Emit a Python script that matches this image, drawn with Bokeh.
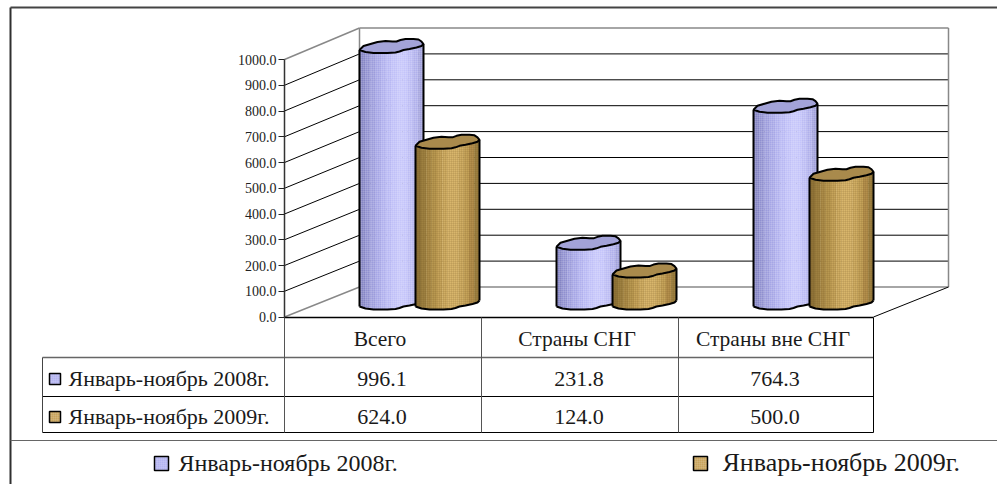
from bokeh.plotting import figure
from bokeh.models import Range1d, LinearAxis, FixedTicker, PrintfTickFormatter
from bokeh.core.properties import value
from bokeh.embed import file_html
from bokeh.resources import INLINE

categories = ["Всего", "Страны СНГ", "Страны вне СНГ"]
series_names = ["Январь-ноябрь 2008г.", "Январь-ноябрь 2009г."]
values_2008 = [996.1, 231.8, 764.3]
values_2009 = [624.0, 124.0, 500.0]
ticks = [0, 100, 200, 300, 400, 500, 600, 700, 800, 900, 1000]

FONT = "Liberation Serif"
W, H = 997, 484
PX_PER_UNIT = 0.2575
Y0 = 316.5  # page pixel of value 0

def vy(py):
    """page pixel row -> value units"""
    return (Y0 - py) / PX_PER_UNIT

p = figure(width=W, height=H, output_backend="svg", toolbar_location=None,
           x_range=Range1d(0, W), y_range=Range1d(vy(H), vy(0)),
           min_border=0, outline_line_color=None, background_fill_color="white",
           border_fill_color="white")
p.axis.visible = False
p.grid.visible = False

def line(xs, ys, color="black", w=1):
    p.line(xs, [vy(y) for y in ys], line_color=color, line_width=w)

def txt(x, y, s, size, align="center"):
    p.text([x], [vy(y)], text=[s], text_font=value(FONT), text_font_size=f"{size}px",
           text_align=align, text_baseline="middle", text_color="#1a1a1a")

# outer frame
line([10, 10], [7, 484], "#303030", 2)
line([10, 997], [7, 7], "#444444", 2)
line([10, 997], [440, 440], "#666666", 1)

# walls and gridlines
XA, XB, XC = 284, 359, 948
def wall_dy(t):
    return 30 + t * 0.0015

for t in ticks:
    py = Y0 - t * PX_PER_UNIT
    edge = t in (0, 1000)
    c = "#888888" if edge else "black"
    w = 1.5 if edge else 1
    wy = py - wall_dy(t)
    p.segment([XA], [t], [XB], [vy(wy)], line_color=c, line_width=w)
    p.segment([XB], [vy(wy)], [XC], [vy(wy)], line_color=c, line_width=w)
top_wall = Y0 - 1000 * PX_PER_UNIT - wall_dy(1000)
line([XB, XB], [Y0 - wall_dy(0), top_wall], "#888888", 1.5)
line([XC, XC], [Y0 - wall_dy(0), top_wall], "#888888", 1.5)
line([XC, 873], [Y0 - wall_dy(0), Y0], "black", 1)

# value axis
ax = LinearAxis(fixed_location=XA, ticker=FixedTicker(ticks=ticks),
                major_label_text_font=FONT, major_label_text_font_size="14px",
                major_label_text_color="#222222", major_tick_line_color="#222222",
                major_tick_in=0, major_tick_out=6, minor_tick_line_color=None,
                axis_line_color="#333333", axis_line_width=1.5,
                major_label_standoff=2)
ax.formatter = PrintfTickFormatter(format="%.1f")
ax.bounds = (0, 1000)
p.add_layout(ax, "left")

# cylinders
BACK = [(0, 0), (4, -4), (11, -6), (18, -8), (26, -9), (33, -8.5), (37, -8.5), (41, -10),
        (46, -11), (54, -11), (59, -10.5), (62, -8.5), (64, -6)]
FRONT = [(64, -6), (62, -4), (57, -2.5), (50, -1), (44, 0), (40, 1.5), (36, 2.5), (28, 3),
         (14, 3), (6, 2), (0, 0)]
front_lr = FRONT[::-1]
BASE = 306

def front_y(dx):
    for (x0, y0), (x1, y1) in zip(front_lr, front_lr[1:]):
        if x0 <= dx <= x1:
            return y0 + (y1 - y0) * (dx - x0) / (x1 - x0)
    return front_lr[-1][1]

PAL_B = ["#8484c4", "#9090d0", "#9c9cdc", "#a6a6e6", "#b0b0ee", "#b8b8f4", "#c0c0f8", "#c6c6fa",
         "#c4c4fa", "#bcbcf4", "#b0b0ec", "#a0a0dc"]
PAL_G = ["#8f7338", "#9d8040", "#ab8c48", "#b89850", "#c6a45a", "#d0ae64", "#d8b66c", "#d8b66c",
         "#d0ae64", "#c6a45a", "#b38f4c", "#9d8040"]
TOP_B, TOP_G = "#a3a3d8", "#a98a4c"

def cylinder(x, v, pal, top, hatch_c):
    n = len(pal)
    sw = 64 / n
    h = v * PX_PER_UNIT
    for i, c in enumerate(pal):
        a, b = i * sw, (i + 1) * sw
        knots = [a] + [k for k, _ in front_lr if a < k < b] + [min(b + 0.4, 64)]
        xs = [x + d for d in knots] + [x + d for d in knots[::-1]]
        ys = [BASE - h + front_y(d) for d in knots] + [BASE + front_y(d) for d in knots[::-1]]
        p.patch(xs, [vy(y) for y in ys], fill_color=c, line_color=None,
                hatch_pattern="cross", hatch_color=hatch_c, hatch_scale=2,
                hatch_weight=0.5, hatch_alpha=0.5)
    xs = [x + dx for dx, _ in front_lr]
    line([x, x], [BASE - h, BASE], "black", 2)
    line([x + 64, x + 64], [BASE - h - 6, BASE - 6], "black", 2)
    line(xs, [BASE + dy for _, dy in front_lr], "black", 2)
    pts = BACK + FRONT[1:]
    p.patch([x + dx for dx, _ in pts], [vy(BASE - h + dy) for _, dy in pts],
            fill_color=top, line_color="black", line_width=2)

GROUP_X = [359, 556, 753]
for gx, v8, v9 in zip(GROUP_X, values_2008, values_2009):
    cylinder(gx, v8, PAL_B, TOP_B, "white")
    cylinder(gx + 56, v9, PAL_G, TOP_G, "#6a5020")

# data table
COLS = [284, 481, 678, 873]
ROWS = [317, 357, 396, 432]
line([COLS[0], COLS[3]], [ROWS[0], ROWS[0]], "black", 1.5)
line([42, COLS[3]], [ROWS[1], ROWS[1]], "#666666", 1.5)
line([42, COLS[3]], [ROWS[2], ROWS[2]], "black", 1)
line([42, COLS[3]], [ROWS[3], ROWS[3]], "black", 1)
line([42, 42], [ROWS[1], ROWS[3]], "#444444", 1)
for c in COLS[:3]:
    line([c, c], [ROWS[0], ROWS[3]], "#555555", 1)
line([COLS[3], COLS[3]], [ROWS[0], ROWS[3]], "black", 1)

for i, (cat, v8, v9) in enumerate(zip(categories, values_2008, values_2009)):
    cx = (COLS[i] + COLS[i + 1]) / 2
    txt(cx - 3, 338, cat, 21.5)
    txt(cx - 1, 378, f"{v8:.1f}", 22)
    txt(cx - 1, 416, f"{v9:.1f}", 22)

def key(x, y, s, fill):
    xs = [x, x + s, x + s, x]
    ys = [y, y, y + s, y + s]
    p.patch(xs, [vy(v) for v in ys], fill_color=fill, line_color="black", line_width=1.5,
            hatch_pattern="cross", hatch_color="white", hatch_scale=2, hatch_weight=0.5,
            hatch_alpha=0.4)

key(49, 373, 11, "#b4b4f0")
key(49, 411, 11, "#c8a45c")
txt(68, 378, series_names[0], 22, "left")
txt(68, 416, series_names[1], 22, "left")

key(154, 456, 14, "#b4b4f0")
key(693, 456, 14, "#c8a45c")
txt(178, 462, series_names[0], 24, "left")
txt(722, 462, series_names[1], 26, "left")

open("out.html", "w").write(file_html(p, INLINE))
